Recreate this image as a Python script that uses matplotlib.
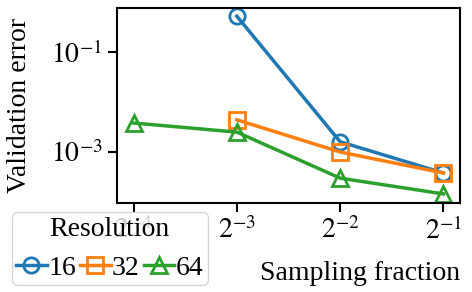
import matplotlib
matplotlib.use("Agg")
import matplotlib.pyplot as plt

plt.rcParams['font.family'] = 'serif'
plt.rcParams['font.serif'] = ['Liberation Serif', 'DejaVu Serif']
plt.rcParams['mathtext.fontset'] = 'stix'

fractions = [2**-4, 2**-3, 2**-2, 2**-1]
res16_x = [2**-3, 2**-2, 2**-1]
res16_y = [0.52, 1.6e-3, 3.8e-4]
res32_x = [2**-3, 2**-2, 2**-1]
res32_y = [4.4e-3, 1.0e-3, 3.8e-4]
res64_x = [2**-4, 2**-3, 2**-2, 2**-1]
res64_y = [3.8e-3, 2.5e-3, 3.0e-4, 1.45e-4]
labels = ['16', '32', '64']

fs = 20
fig = plt.figure(figsize=(4.72, 2.92), dpi=100)
ax = fig.add_axes([117/472, 1-203/292, (460-117)/472, (203-8)/292])

kw = dict(lw=2.5, ms=11, mew=2, mfc='none')
ax.plot(res16_x, res16_y, marker='o', color='#1f77b4', label=labels[0], **kw)
ax.plot(res32_x, res32_y, marker='s', color='#ff7f0e', label=labels[1], **kw)
ax.plot(res64_x, res64_y, marker='^', color='#2ca02c', label=labels[2], **kw)

ax.set_xscale('log', base=2)
ax.set_yscale('log')
ax.set_xlim(2**-4.16, 2**-0.84)
ax.set_ylim(10**-4.02, 10**-0.12)
ax.set_xticks(fractions)
ax.set_xticklabels([r'$2^{-4}$', r'$2^{-3}$', r'$2^{-2}$', r'$2^{-1}$'])
ax.set_yticks([1e-3, 1e-1])
ax.set_yticklabels([r'$10^{-3}$', r'$10^{-1}$'])
ax.minorticks_off()
ax.tick_params(labelsize=fs, width=1.5, length=6.5, pad=4)
for s in ax.spines.values():
    s.set_linewidth(1.5)

ax.set_xlabel('Sampling fraction', fontsize=fs)
ax.xaxis.set_label_coords(1.0, -0.30)
ax.xaxis.label.set_ha('right')
ax.set_ylabel('Validation error', fontsize=fs)
ax.yaxis.set_label_coords(-0.247, 0.5)

leg = fig.legend(loc='lower left', bbox_to_anchor=(12/472, 1-285/292), ncol=3,
                 title='Resolution', fontsize=fs, title_fontsize=fs,
                 handlelength=1.1, handletextpad=0.05, columnspacing=0.15,
                 borderpad=0.15, borderaxespad=0, framealpha=0.8)

fig.savefig('out.png', dpi=100)
